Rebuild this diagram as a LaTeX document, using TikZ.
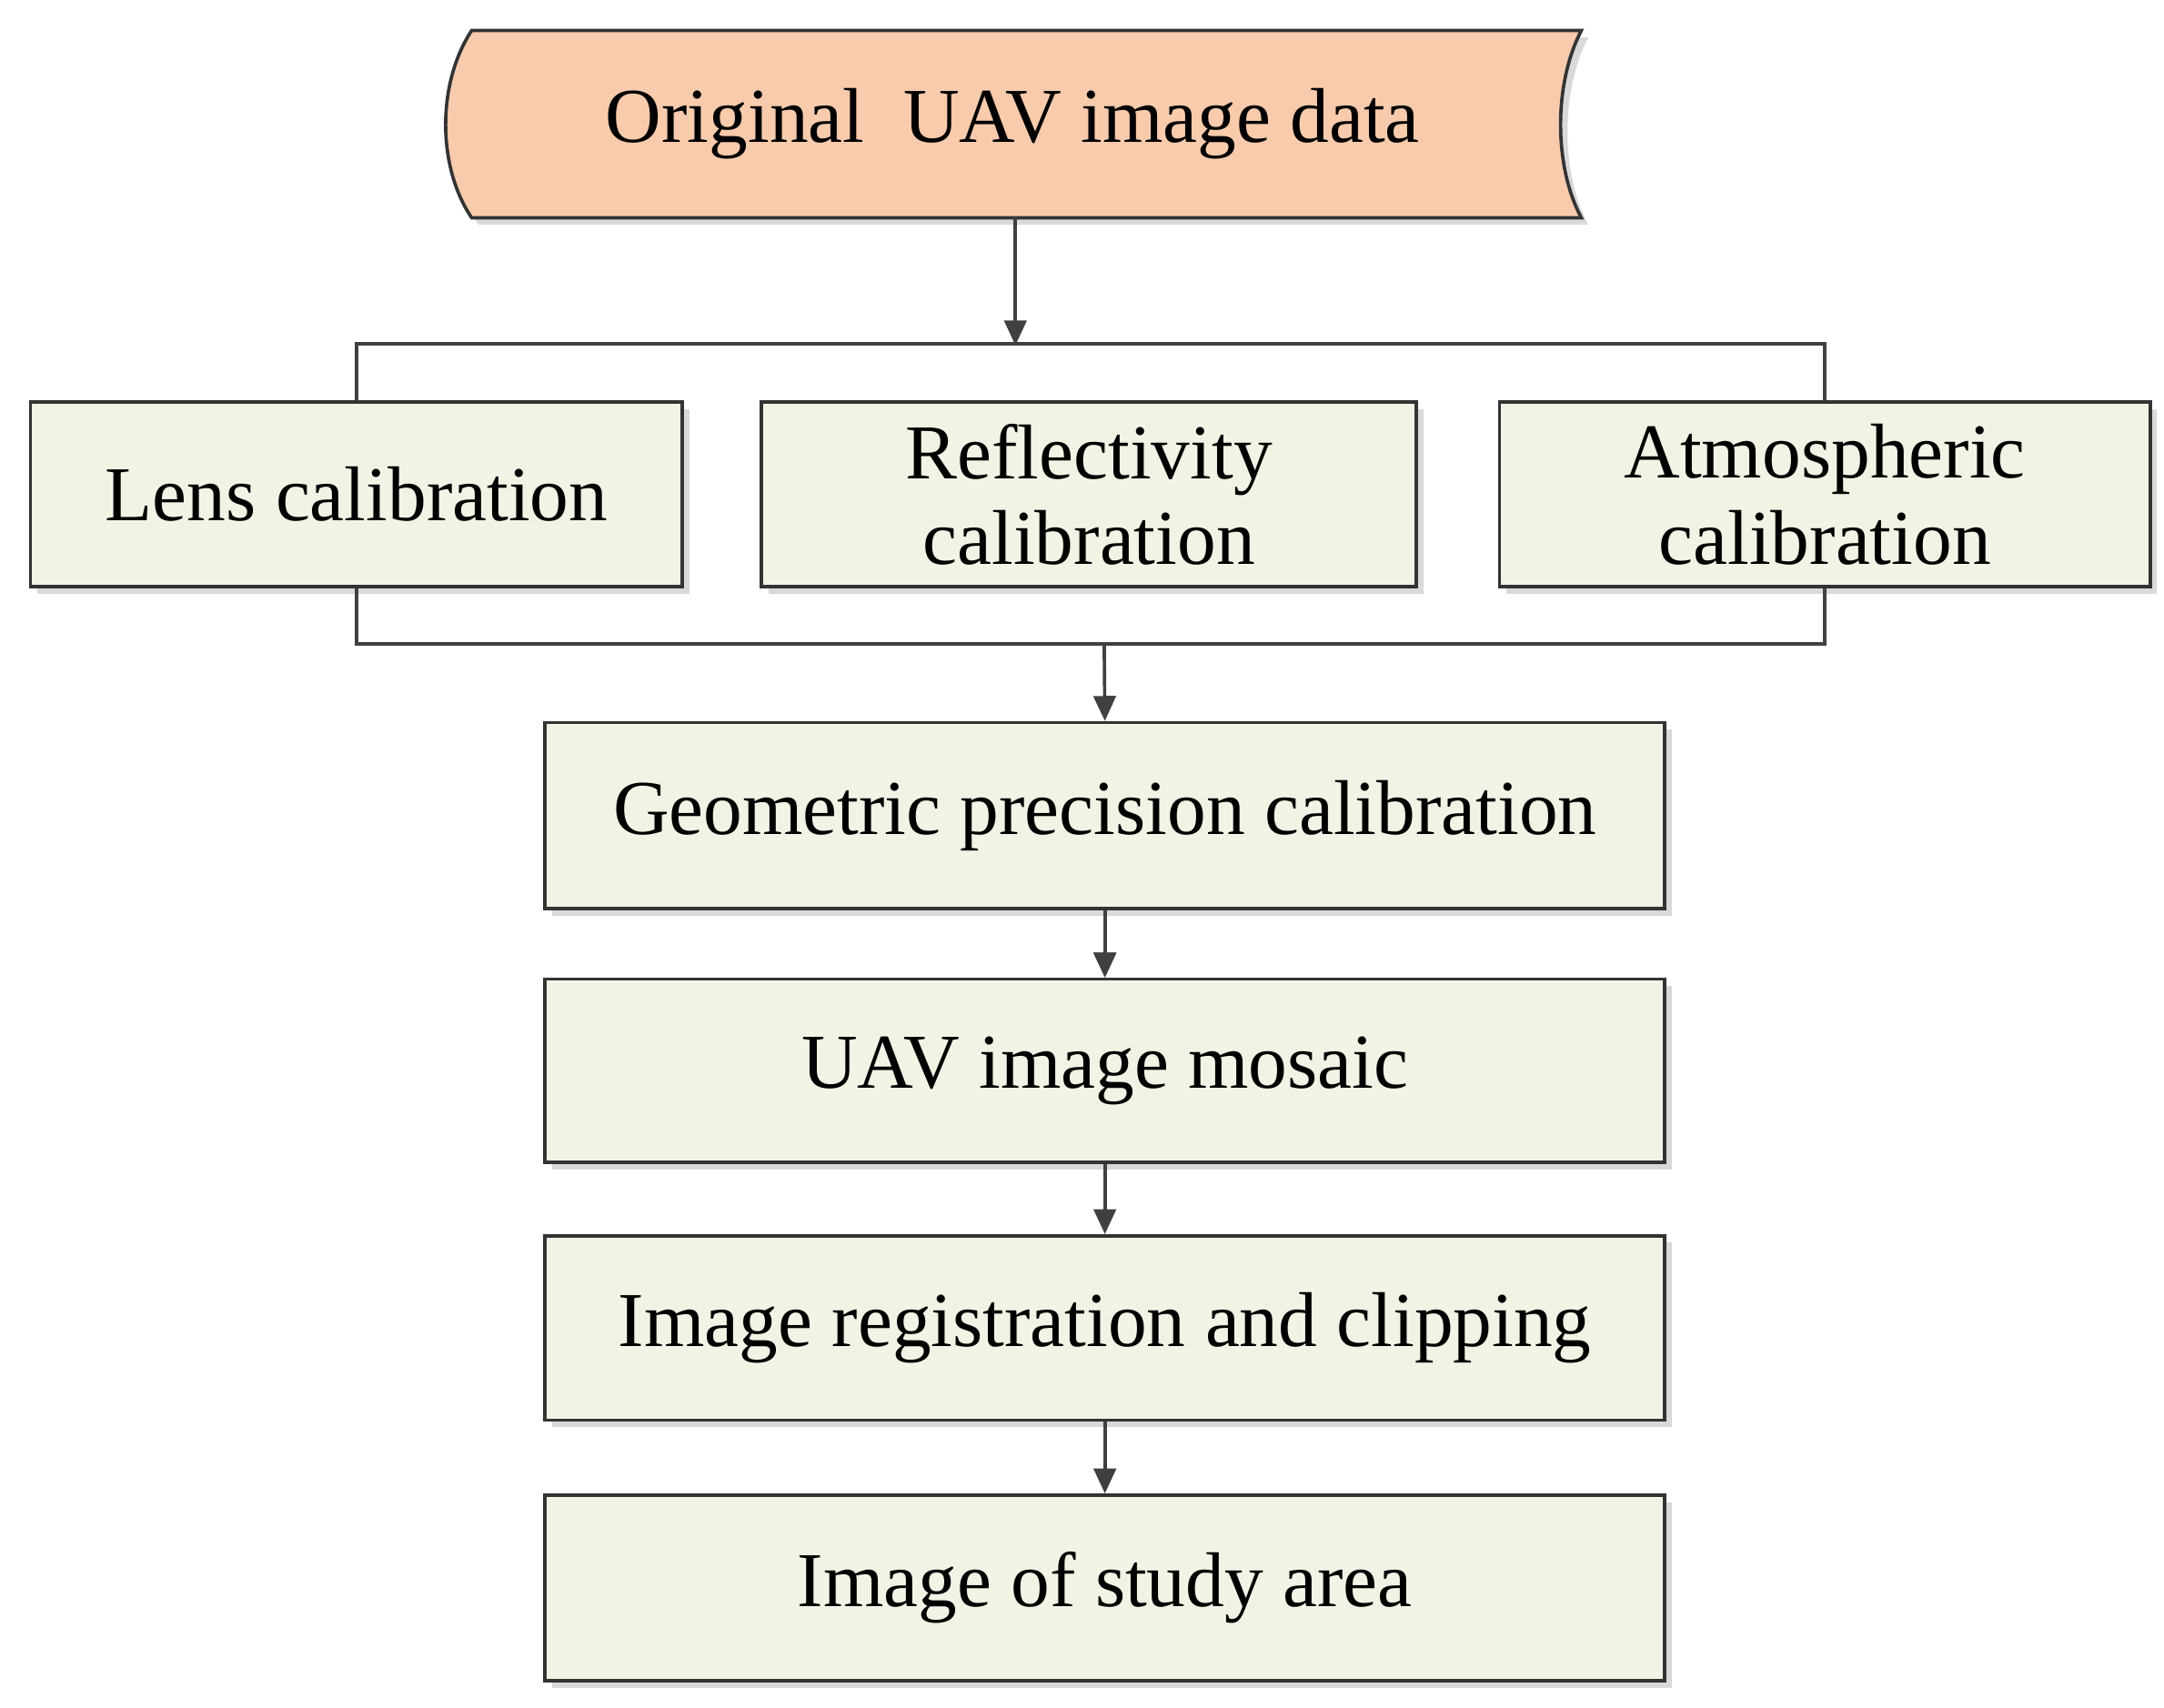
\documentclass[tikz,border=0pt]{standalone}
\usepackage{fontspec}
\setmainfont{Liberation Serif}
\usetikzlibrary{arrows.meta}
\begin{document}
\begin{tikzpicture}[x=0.5pt,y=-0.5pt,
  box/.style={draw=black!80,line width=1.2pt,fill=green!8!olive!10!white,inner sep=0pt,align=center,font=\fontsize{28}{31}\selectfont},
  shadowbox/.style={fill=black!20,draw=none},
  arr/.style={draw=black!75,line width=1.2pt,-{Triangle[length=9pt,width=8pt]}},
  ln/.style={draw=black!75,line width=1.2pt}]
\useasboundingbox (0,0) rectangle (1560,1231);
% shadows
\foreach \a/\b/\c/\d in {22/290/492/423,549/290/1021/423,1081/290/1550/423,393/521/1200/655,393/706/1200/838,393/891/1200/1024,393/1078/1200/1212}
  \fill[black!15] (\a+5,\b+5) rectangle (\c+5,\d+5);
% top shape
\fill[black!15,shift={(5,5)}] (340,22) -- (1140,22) .. controls (1120,60) and (1120,120) .. (1140,157) -- (340,157) .. controls (315,120) and (315,60) .. (340,22) -- cycle;
\draw[line width=1.2pt,draw=black!80,fill={rgb,255:red,247;green,203;blue,172}] (340,22) -- (1140,22) .. controls (1120,60) and (1120,120) .. (1140,157) -- (340,157) .. controls (315,120) and (315,60) .. (340,22) -- cycle;
\node[font=\fontsize{28}{31}\selectfont] (top) at (730,89) {Original\ \ UAV image data};
\coordinate (topb) at (732,157);
\coordinate (t1) at (732,249);
% boxes
\node[box,minimum width=235pt,minimum height=66.5pt] (lens) at (257,356.5) {Lens calibration};
\node[box,minimum width=236pt,minimum height=66.5pt] (refl) at (785,356.5) {Reflectivity\\calibration};
\node[box,minimum width=234.5pt,minimum height=66.5pt] (atm) at (1315.5,356.5) {Atmospheric\\calibration};
\node[box,minimum width=403.5pt,minimum height=67pt] (geo) at (796.5,588) {Geometric precision calibration};
\node[box,minimum width=403.5pt,minimum height=66pt] (mos) at (796.5,772) {UAV image mosaic};
\node[box,minimum width=403.5pt,minimum height=66.5pt] (reg) at (796.5,957.5) {Image registration and clipping};
\node[box,minimum width=403.5pt,minimum height=67pt] (stu) at (796.5,1145) {Image of study area};
% connectors
\draw[arr] (topb) -- (t1);
\draw[ln] (lens.north) -- ++(0,-41) -| (atm.north);
\draw[ln] (lens.south) -- ++(0,40) -| (atm.south);
\coordinate (b1) at (796,463);
\draw[arr] (b1) -- (geo.north);
\draw[arr] (geo) -- (mos);
\draw[arr] (geo.south) -- (mos.north);
\draw[arr] (mos.south) -- (reg.north);
\draw[arr] (reg.south) -- (stu.north);
\end{tikzpicture}
\end{document}
